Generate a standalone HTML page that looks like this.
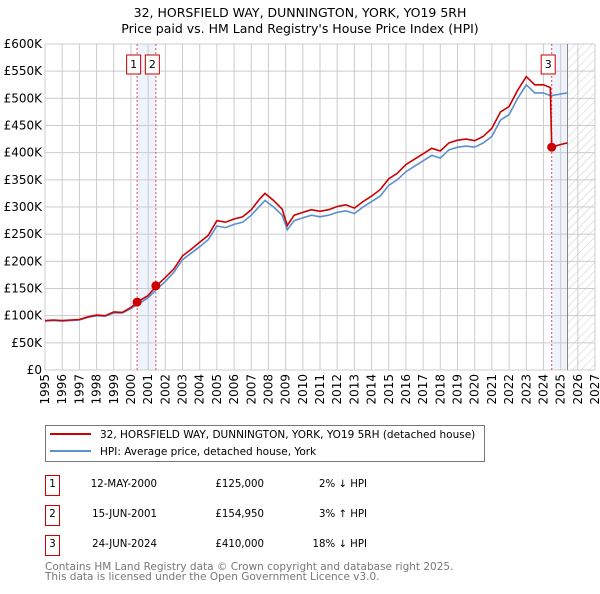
<!DOCTYPE html>
<html><head><meta charset="utf-8"><style>
body{margin:0;background:#fff;font-family:"DejaVu Sans","Liberation Sans",sans-serif;}
</style></head><body>
<svg id="c" width="600" height="590" xmlns="http://www.w3.org/2000/svg" font-family="DejaVu Sans, Liberation Sans, sans-serif">
<defs><pattern id="hatch" width="6" height="6" patternUnits="userSpaceOnUse" patternTransform="rotate(45)"><line x1="0" y1="0" x2="0" y2="6" stroke="#ccc" stroke-width="1"/></pattern></defs>
<text x="300" y="17" text-anchor="middle" font-size="12.5">32, HORSFIELD WAY, DUNNINGTON, YORK, YO19 5RH</text>
<text x="300" y="33" text-anchor="middle" font-size="12.5">Price paid vs. HM Land Registry's House Price Index (HPI)</text>
<g id="plot"></g>
<g>
<rect x="45.5" y="425.5" width="439" height="36" fill="#fff" stroke="#777"/>
<line x1="50" y1="434" x2="91" y2="434" stroke="#cc0000" stroke-width="2"/>
<text x="100" y="438" font-size="10.5">32, HORSFIELD WAY, DUNNINGTON, YORK, YO19 5RH (detached house)</text>
<line x1="50" y1="451" x2="91" y2="451" stroke="#5b8fd0" stroke-width="2"/>
<text x="100" y="455" font-size="10.5">HPI: Average price, detached house, York</text>
</g>
<g font-size="10.2">
<rect x="45.5" y="475.5" width="14" height="20" fill="#fff" stroke="#cc0000"/><text x="52.5" y="487" text-anchor="middle">1</text>
<text x="157" y="487" text-anchor="end">12-MAY-2000</text><text x="264" y="487" text-anchor="end">£125,000</text><text x="367" y="487" text-anchor="end">2% ↓ HPI</text>
<rect x="45.5" y="505.5" width="14" height="20" fill="#fff" stroke="#cc0000"/><text x="52.5" y="517" text-anchor="middle">2</text>
<text x="157" y="517" text-anchor="end">15-JUN-2001</text><text x="264" y="517" text-anchor="end">£154,950</text><text x="367" y="517" text-anchor="end">3% ↑ HPI</text>
<rect x="45.5" y="535.5" width="14" height="20" fill="#fff" stroke="#cc0000"/><text x="52.5" y="547" text-anchor="middle">3</text>
<text x="157" y="547" text-anchor="end">24-JUN-2024</text><text x="264" y="547" text-anchor="end">£410,000</text><text x="367" y="547" text-anchor="end">18% ↓ HPI</text>
</g>
<text x="45" y="570" font-size="10.5" fill="#777">Contains HM Land Registry data © Crown copyright and database right 2025.</text>
<text x="45" y="580" font-size="10.5" fill="#777">This data is licensed under the Open Government Licence v3.0.</text>
</svg>
<script>
const times=[1995,1995.5,1996,1996.5,1997,1997.5,1998,1998.5,1999,1999.5,2000,2000.36,2001,2001.45,2002,2002.5,2003,2003.5,2004,2004.5,2005,2005.5,2006,2006.5,2007,2007.5,2007.8,2008.3,2008.8,2009.1,2009.5,2010,2010.5,2011,2011.5,2012,2012.5,2013,2013.5,2014,2014.5,2015,2015.5,2016,2016.5,2017,2017.5,2018,2018.5,2019,2019.5,2020,2020.5,2021,2021.5,2022,2022.5,2023,2023.5,2024,2024.4,2024.48,2025,2025.4];
const hpiValues=[90,91,90,91,92,97,100,99,105,105,113,120,133,147,163,180,203,215,227,240,265,262,268,272,285,302,312,300,285,258,275,280,285,282,285,290,293,288,300,310,320,340,350,365,375,385,395,390,405,410,412,410,418,430,460,470,500,525,510,510,505,505,508,510];
const priceValues=[91,92,91,92,93,98,101,100,107,106,115,125,137,154,170,186,210,222,235,248,275,272,278,282,295,315,325,312,296,266,285,290,295,292,295,301,304,298,310,320,332,352,362,378,388,398,408,403,418,423,425,422,430,445,475,485,515,540,525,525,520,410,415,418];
const saleTimes=[2000.36,2001.45,2024.48];
const salePrices=[125,154.95,410];
const saleLabels=['1','2','3'];
const yTicks=[0,50,100,150,200,250,300,350,400,450,500,550,600];
const xYears=[1995,1996,1997,1998,1999,2000,2001,2002,2003,2004,2005,2006,2007,2008,2009,2010,2011,2012,2013,2014,2015,2016,2017,2018,2019,2020,2021,2022,2023,2024,2025,2026,2027];
const dataEnd=2025.4;
const NS='http://www.w3.org/2000/svg';
const X0=45,X1=595,Y0=370,Y1=44;
const xs=t=>X0+(t-1995)/(2027-1995)*(X1-X0);
const ys=v=>Y0-v/600*(Y0-Y1);
const g=document.getElementById('plot');
function mk(tag,at,parent){const e=document.createElementNS(NS,tag);for(const k in at)e.setAttribute(k,at[k]);(parent||g).appendChild(e);return e;}
let b=mk('rect',{x:xs(saleTimes[0]),y:Y1,width:xs(saleTimes[1])-xs(saleTimes[0]),height:Y0-Y1,fill:'#eef3fc'});


b=mk('rect',{x:xs(saleTimes[2]),y:Y1,width:xs(dataEnd)-xs(saleTimes[2]),height:Y0-Y1,fill:'#eef3fc'});


b=mk('rect',{x:xs(dataEnd),y:Y1,width:X1-xs(dataEnd),height:Y0-Y1,fill:'url(#hatch)'});


yTicks.forEach(v=>{
 const l=mk('line',{x1:X0,x2:X1,y1:ys(v),y2:ys(v),stroke:'#ccc'});
 
 
 const t=mk('text',{x:X0-3,y:ys(v)+4,'text-anchor':'end','font-size':'12'});
 t.textContent=v===0?'£0':'£'+v+'K';
 
 
});
xYears.forEach(yr=>{
 const l=mk('line',{x1:xs(yr),x2:xs(yr),y1:Y1,y2:Y0,stroke:'#ccc'});
 
 
 const t=mk('text',{x:0,y:0,'text-anchor':'end','font-size':'12',transform:`translate(${xs(yr)+4},${Y0+4}) rotate(-90)`});
 t.textContent=yr;
 
 
});
let d=mk('line',{x1:xs(dataEnd),x2:xs(dataEnd),y1:Y1,y2:Y0,stroke:'#888'});


saleTimes.forEach((s,i)=>{
 const l=mk('line',{x1:xs(s),x2:xs(s),y1:Y1,y2:Y0,stroke:'#e05050','stroke-dasharray':'2,2'});
 
 
});
function pts(arr){return times.map((t,i)=>xs(t).toFixed(1)+','+ys(arr[i]).toFixed(1)).join(' ');}
const hl=mk('polyline',{points:pts(hpiValues),fill:'none',stroke:'#5b8fd0','stroke-width':'1.6'});


const pl=mk('polyline',{points:pts(priceValues),fill:'none',stroke:'#cc0000','stroke-width':'1.6'});


saleTimes.forEach((s,i)=>{
 const c=mk('circle',{cx:xs(s),cy:ys(salePrices[i]),r:4.5,fill:'#cc0000'});
 
 
 const off=-3.5;
 const r=mk('rect',{x:xs(s)+off-7,y:55,width:14,height:19,fill:'#fff',stroke:'#cc0000'});
 
 
 const t=mk('text',{x:xs(s)+off,y:68,'text-anchor':'middle','font-size':'11'});
 t.textContent=saleLabels[i];
 
 
});
</script>
</body></html>
